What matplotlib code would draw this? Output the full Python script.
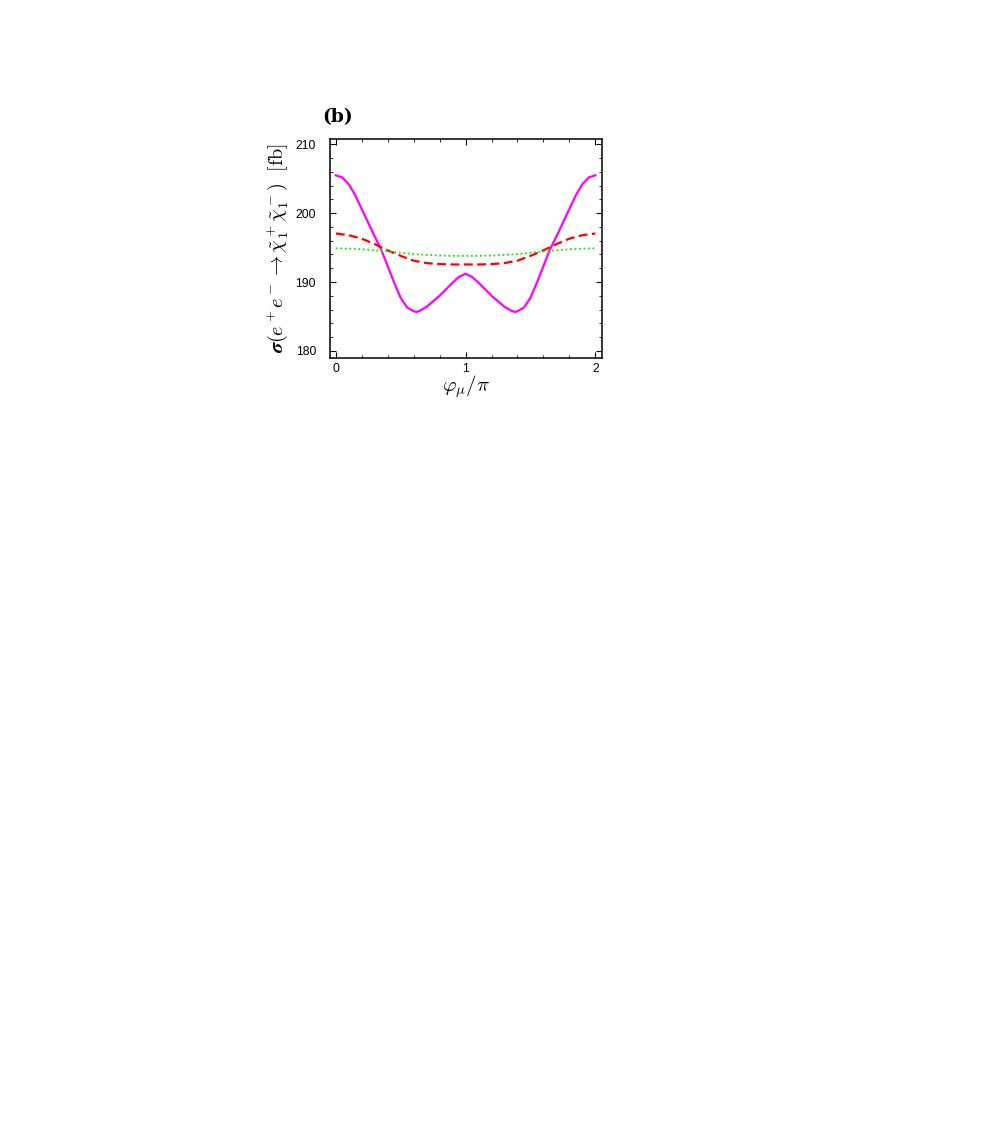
import numpy as np
import matplotlib
matplotlib.use("Agg")
import matplotlib.pyplot as plt
from matplotlib.ticker import MultipleLocator

plt.rcParams['mathtext.fontset'] = 'cm'
plt.rcParams['font.family'] = ['Liberation Sans', 'DejaVu Sans']

# phi_mu / pi
phi_fine = [0.00, 0.05, 0.10, 0.15, 0.20, 0.25, 0.30, 0.35, 0.40, 0.45,
            0.50, 0.55, 0.60, 0.62, 0.65, 0.70, 0.75, 0.80, 0.85, 0.90,
            0.95, 1.00, 1.05, 1.10, 1.15, 1.20, 1.25, 1.30, 1.35, 1.38,
            1.40, 1.45, 1.50, 1.55, 1.60, 1.65, 1.70, 1.75, 1.80, 1.85,
            1.90, 1.95, 2.00]
sigma_solid = [205.5, 205.2, 204.2, 202.6, 200.6, 198.6, 196.6, 194.7, 192.3, 189.9,
               187.7, 186.3, 185.75, 185.65, 185.85, 186.4, 187.2, 188.0, 188.95, 189.9,
               190.75, 191.2, 190.75, 189.9, 188.95, 188.0, 187.2, 186.4, 185.85, 185.65,
               185.75, 186.3, 187.7, 189.9, 192.3, 194.7, 196.6, 198.6, 200.6, 202.6,
               204.2, 205.2, 205.5]

phi = [0.0, 0.1, 0.2, 0.3, 0.4, 0.5, 0.6, 0.7, 0.8, 0.9, 1.0,
       1.1, 1.2, 1.3, 1.4, 1.5, 1.6, 1.7, 1.8, 1.9, 2.0]
sigma_dashed = [197.05, 196.8, 196.3, 195.5, 194.6, 193.8, 193.1, 192.75, 192.6, 192.55, 192.55,
                192.55, 192.6, 192.75, 193.1, 193.8, 194.6, 195.5, 196.3, 196.8, 197.05]
sigma_dotted = [194.9, 194.85, 194.75, 194.6, 194.45, 194.25, 194.05, 193.95, 193.85, 193.8, 193.8,
                193.8, 193.85, 193.95, 194.05, 194.25, 194.45, 194.6, 194.75, 194.85, 194.9]

fig = plt.figure(figsize=(10.03, 11.44), dpi=100)
ax = fig.add_axes([0.329, 0.6873, 0.271, 0.1913])

ax.plot(phi_fine, sigma_solid, color='#ff00ff', lw=1.6, solid_joinstyle='round')
ax.plot(phi, sigma_dashed, color='#ff0000', lw=1.6, ls=(0, (4, 2)))
ax.plot(phi, sigma_dotted, color='#00ee00', lw=1.3, ls=(0, (1, 1.5)))

ax.set_xlim(-0.045, 2.05)
ax.set_ylim(179.0, 210.8)
ax.xaxis.set_major_locator(MultipleLocator(1))
ax.xaxis.set_minor_locator(MultipleLocator(0.2))
ax.yaxis.set_major_locator(MultipleLocator(10))
ax.yaxis.set_minor_locator(MultipleLocator(2))
ax.tick_params(which='both', direction='in', top=True, right=True, labelsize=8.8)
ax.tick_params(axis='x', which='major', pad=3.5)
ax.tick_params(axis='y', which='major', pad=10)
ax.tick_params(which='major', length=4.5, width=0.8)
ax.tick_params(which='minor', length=2.5, width=0.6)
for s in ax.spines.values():
    s.set_linewidth(1.1)

ax.set_xlabel(r'$\varphi_\mu/\pi$', fontsize=15, labelpad=-1)
ax.set_ylabel(r'$\boldsymbol{\sigma}(e^+e^-\rightarrow\tilde{\chi}^+_1\tilde{\chi}^-_1)\ \ [\mathrm{fb}]$',
              fontsize=14.5, labelpad=4)
fig.text(0.321, 0.898, '(b)', fontsize=13.5, fontweight='bold', family='DejaVu Serif',
         va='center', ha='left')

plt.savefig("out.png", dpi=100)
